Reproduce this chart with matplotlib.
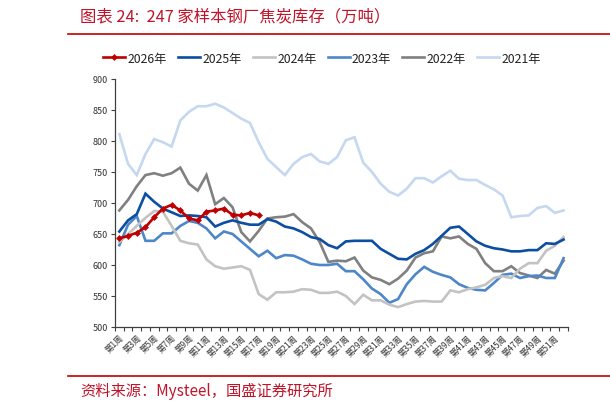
import matplotlib
matplotlib.use("Agg")
import matplotlib.pyplot as plt
from matplotlib.lines import Line2D

plt.rcParams['font.family'] = ['Noto Sans CJK SC', 'DejaVu Sans']

weeks = [f"第{i}周" for i in range(1, 53)]

y2026 = [643, 647, 652, 661, 677, 691, 697, 688, 675, 672, 686, 688, 691, 681, 680, 684, 680]
y2025 = [654, 672, 682, 715, 702, 691, 685, 679, 680, 679, 677, 662, 668, 672, 668, 665,
         665, 674, 670, 662, 659, 653, 645, 642, 632, 627, 638, 639, 639, 639, 626, 618,
         610, 609, 618, 624, 634, 647, 660, 662, 650, 638, 631, 627, 625, 622, 622, 624,
         624, 635, 634, 641]
y2024 = [637, 650, 663, 676, 687, 686, 663, 639, 635, 633, 609, 598, 594, 596, 598, 592,
         553, 544, 556, 556, 557, 561, 560, 555, 555, 557, 550, 537, 552, 543, 543, 536,
         532, 537, 541, 542, 541, 541, 559, 556, 561, 564, 568, 579, 582, 579, 594, 603,
         603, 623, 631, 645]
y2023 = [632, 665, 679, 639, 639, 651, 651, 663, 671, 668, 659, 643, 654, 650, 638, 626,
         614, 623, 611, 616, 615, 609, 602, 600, 600, 602, 590, 590, 577, 562, 553, 539,
         545, 569, 585, 597, 589, 584, 580, 569, 563, 560, 559, 571, 584, 586, 579, 582,
         583, 579, 579, 611]
y2022 = [688, 705, 727, 745, 748, 744, 748, 757, 731, 720, 745, 698, 708, 693, 653, 638,
         655, 675, 677, 678, 682, 669, 659, 637, 605, 607, 606, 612, 591, 580, 576, 569,
         578, 591, 612, 619, 622, 646, 643, 646, 634, 626, 603, 590, 590, 598, 587, 583,
         579, 592, 586, 607]
y2021 = [811, 763, 745, 779, 803, 798, 791, 833, 847, 856, 856, 860, 854, 845, 836, 829,
         798, 771, 758, 745, 763, 774, 779, 767, 763, 774, 801, 806, 765, 750, 731, 718,
         712, 723, 740, 740, 733, 743, 752, 739, 737, 737, 729, 722, 712, 677, 679, 680,
         692, 695, 684, 688]

series = [
    ("2026年", y2026, "#c00000"),
    ("2025年", y2025, "#0b4ea2"),
    ("2024年", y2024, "#c3c3c3"),
    ("2023年", y2023, "#4d87c9"),
    ("2022年", y2022, "#808080"),
    ("2021年", y2021, "#c5d8ef"),
]

fig = plt.figure(figsize=(6.1, 4.1), dpi=100)
ax = fig.add_axes([0.1885, 0.2, 0.7425, 0.605])

x_all = list(range(len(weeks)))
handles = {}
for name, vals, col in reversed(series):
    xs = x_all[:len(vals)]
    if name == "2026年":
        h, = ax.plot(xs, vals, color=col, lw=1.9, marker='D', markersize=3.5,
                     markeredgewidth=0, zorder=10)
    else:
        h, = ax.plot(xs, vals, color=col, lw=1.9, solid_joinstyle='miter')
    handles[name] = h

ax.set_xlim(-0.5, len(weeks) - 0.5)
ax.set_ylim(500, 900)
ax.set_yticks(range(500, 901, 50))
ax.tick_params(axis='y', labelsize=6.5, length=3, width=0.8, color='#404040',
               labelcolor='#333333', pad=2)

ax.set_xticks([i for i in x_all if i % 2 == 0])
ax.set_xticklabels([weeks[i] for i in x_all if i % 2 == 0], rotation=45,
                   ha='right', va='top', rotation_mode='anchor', fontsize=6,
                   color='#333333')
ax.tick_params(axis='x', which='major', length=0, pad=4)
ax.set_xticks([i - 0.5 for i in range(len(weeks) + 1)], minor=True)
ax.tick_params(axis='x', which='minor', length=3, width=0.8, color='#404040')

for s in ['top', 'right']:
    ax.spines[s].set_visible(False)
for s in ['left', 'bottom']:
    ax.spines[s].set_color('#404040')
    ax.spines[s].set_linewidth(0.9)

fig.legend([handles[n] for n, _, _ in series], [n for n, _, _ in series],
           loc='center', bbox_to_anchor=(0.528, 0.856), ncol=6, frameon=False,
           fontsize=8.8, handlelength=1.8, handletextpad=0.2, columnspacing=0.9,
           labelcolor='#222222')

red = '#c0142b'
fig.text(0.131, 0.9585, "图表 24:  247 家样本钢厂焦炭库存（万吨）", fontsize=11.8,
         color=red, style='italic', va='center', ha='left')
fig.add_artist(Line2D([0.111, 1.0], [0.9146, 0.9146], color='#c00000', lw=1.2,
                      transform=fig.transFigure))
fig.add_artist(Line2D([0.111, 1.0], [0.0805, 0.0805], color='#c00000', lw=1.2,
                      transform=fig.transFigure))
fig.text(0.131, 0.0463, "资料来源：Mysteel，国盛证券研究所", fontsize=11,
         color=red, style='italic', va='center', ha='left')

fig.savefig("out.png", dpi=100)
